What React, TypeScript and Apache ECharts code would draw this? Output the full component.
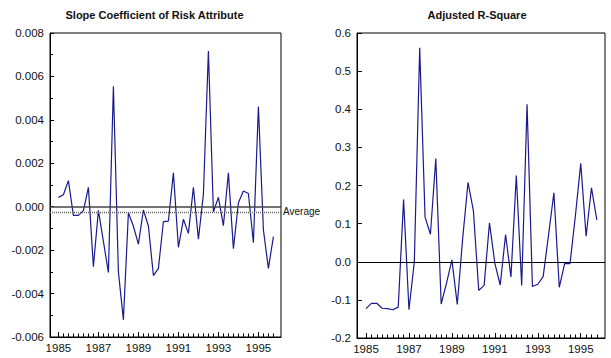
import React, { useEffect, useRef } from "react";
import * as echarts from "echarts";

// Quarterly observations, 1985 Q1 through 1995 Q4
const FIRST_YEAR = 1985;

const SLOPE = [
  0.00043, 0.00055, 0.0012, -0.0004, -0.0004, -0.00018, 0.00089, -0.00276,
  -0.00017, -0.0016, -0.00303, 0.00555, -0.003, -0.00521, -0.00028, -0.0009,
  -0.00172, -0.00015, -0.00089, -0.00317, -0.00284, -0.00069, -0.00066, 0.00156,
  -0.00187, -0.00058, -0.00123, 0.00089, -0.0015, 0.00057, 0.00717, -0.00023,
  0.00043, -0.00087, 0.00156, -0.00193, 0.00018, 0.00072, 0.00061, -0.00166,
  0.00461, -0.00107, -0.00284, -0.00138,
];

const SLOPE_AVERAGE = -0.00024;

const ADJ_R2 = [
  -0.123, -0.109, -0.109, -0.122, -0.123, -0.126, -0.119, 0.163,
  -0.126, 0.0, 0.561, 0.117, 0.072, 0.271, -0.111, -0.056,
  0.005, -0.112, 0.06, 0.208, 0.134, -0.075, -0.062, 0.102,
  -0.004, -0.061, 0.071, -0.04, 0.226, -0.062, 0.413, -0.065,
  -0.059, -0.039, 0.07, 0.181, -0.067, -0.005, -0.005, 0.12,
  0.258, 0.067, 0.194, 0.11,
];

const YEAR_LABELS = [1985, 1987, 1989, 1991, 1993, 1995];

const TITLES = ["Slope Coefficient of Risk Attribute", "Adjusted R-Square"];

const X_MIN = 1984.58;
const X_MAX = 1996.13;

const FONT = '"Liberation Sans", Arial, Helvetica, sans-serif';
const INK = "#111";
const LINE = "#1a1a8e";

const quarterOf = (i: number) => FIRST_YEAR + i / 4;
const QUARTER_TICKS = SLOPE.map((_, i) => quarterOf(i));

function xAxesFor(gridIndex: number) {
  return [
    {
      type: "value",
      gridIndex,
      min: X_MIN,
      max: X_MAX,
      position: "bottom",
      offset: 0,
      axisLine: { show: true, onZero: false, lineStyle: { color: "#000", width: 1 } },
      axisTick: {
        show: true,
        inside: true,
        length: 5,
        customValues: YEAR_LABELS,
        lineStyle: { color: "#000" },
      },
      axisLabel: {
        show: true,
        customValues: YEAR_LABELS,
        formatter: (v: number) => String(Math.round(v)),
        fontSize: 11.5,
        color: INK,
        fontFamily: FONT,
        margin: 5,
      },
      splitLine: { show: false },
    },
    {
      type: "value",
      gridIndex,
      min: X_MIN,
      max: X_MAX,
      position: "bottom",
      offset: 0,
      axisLine: { show: false, onZero: false },
      axisTick: {
        show: true,
        inside: true,
        length: 3.5,
        customValues: QUARTER_TICKS,
        lineStyle: { color: "#000" },
      },
      axisLabel: { show: false },
      splitLine: { show: false },
    },
  ];
}

export default function App() {
  const ref = useRef<HTMLDivElement>(null);

  useEffect(() => {
    document.body.style.margin = "0";
    if (!ref.current) return;
    const chart = echarts.init(ref.current, undefined, { renderer: "svg" });

    const fmt = (digits: number) => (v: number) =>
      (Math.abs(v) < 1e-12 ? 0 : v).toFixed(digits);

    chart.setOption({
      animation: false,
      textStyle: { fontFamily: FONT },
      grid: [
        { left: 50, top: 33, width: 231, height: 304, show: true, borderColor: "#000", borderWidth: 1 },
        { left: 357, top: 33, width: 248, height: 305, show: true, borderColor: "#000", borderWidth: 1 },
      ],
      xAxis: [...xAxesFor(0), ...xAxesFor(1)],
      yAxis: [
        {
          type: "value",
          gridIndex: 0,
          min: -0.006,
          max: 0.008,
          interval: 0.002,
          axisLine: { show: true, onZero: false, lineStyle: { color: "#000" } },
          axisTick: { show: true, inside: true, length: 4, lineStyle: { color: "#000" } },
          minorTick: { show: true, splitNumber: 2, length: 3, lineStyle: { color: "#000" } },
          axisLabel: { formatter: fmt(3), fontSize: 11.5, color: INK, fontFamily: FONT, margin: 6 },
          splitLine: { show: false },
          minorSplitLine: { show: false },
        },
        {
          type: "value",
          gridIndex: 1,
          min: -0.2,
          max: 0.6,
          interval: 0.1,
          axisLine: { show: true, onZero: false, lineStyle: { color: "#000" } },
          axisTick: { show: true, inside: true, length: 5, lineStyle: { color: "#000" } },
          axisLabel: { formatter: fmt(1), fontSize: 11.5, color: INK, fontFamily: FONT, margin: 6 },
          splitLine: { show: false },
        },
      ],
      graphic: [
        {
          type: "text",
          x: 154.5,
          y: 14.5,
          style: {
            text: TITLES[0],
            font: `bold 11px ${FONT}`,
            fill: INK,
            align: "center",
            verticalAlign: "middle",
          },
        },
        {
          type: "text",
          x: 477,
          y: 15,
          style: {
            text: TITLES[1],
            font: `bold 11px ${FONT}`,
            fill: INK,
            align: "center",
            verticalAlign: "middle",
          },
        },
      ],
      series: [
        {
          type: "line",
          xAxisIndex: 0,
          yAxisIndex: 0,
          data: SLOPE.map((v, i) => [quarterOf(i), v]),
          showSymbol: false,
          symbol: "none",
          lineStyle: { color: LINE, width: 1.2 },
          z: 3,
          markLine: {
            silent: true,
            precision: 6,
            symbol: ["none", "none"],
            data: [
              {
                yAxis: 0,
                lineStyle: { color: "#444", width: 1.6, type: "solid" },
                label: { show: false },
              },
              {
                yAxis: SLOPE_AVERAGE,
                lineStyle: { color: "#666", width: 1.4, type: [1, 1] },
                label: {
                  show: true,
                  position: "end",
                  formatter: "Average",
                  fontSize: 10,
                  color: INK,
                  fontFamily: FONT,
                  distance: 2,
                },
              },
            ],
          },
        },
        {
          type: "line",
          xAxisIndex: 2,
          yAxisIndex: 1,
          data: ADJ_R2.map((v, i) => [quarterOf(i), v]),
          showSymbol: false,
          symbol: "none",
          lineStyle: { color: LINE, width: 1.2 },
          z: 3,
          markLine: {
            silent: true,
            symbol: ["none", "none"],
            label: { show: false },
            data: [{ yAxis: 0, lineStyle: { color: "#000", width: 1.2, type: "solid" } }],
          },
        },
      ],
    });

    return () => chart.dispose();
  }, []);

  return <div ref={ref} style={{ width: 611, height: 358 }} />;
}
